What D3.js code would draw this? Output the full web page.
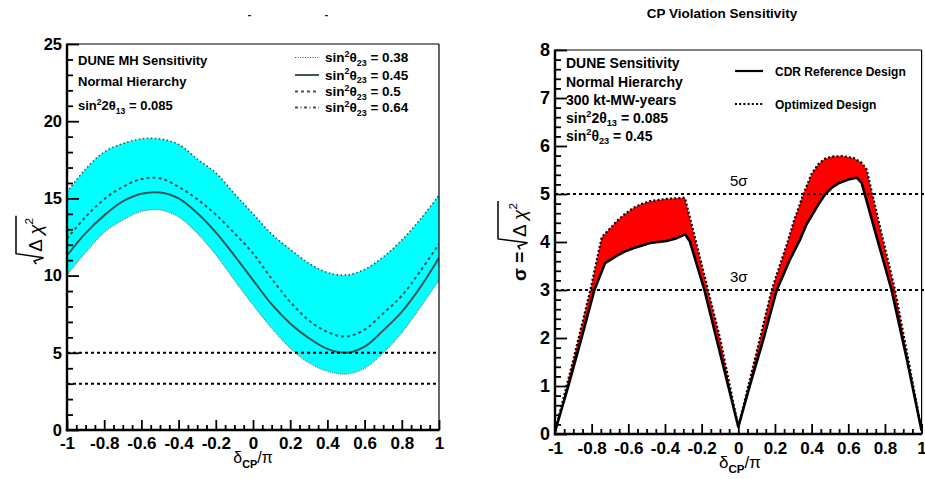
<!DOCTYPE html>
<html><head><meta charset="utf-8">
<script src="https://cdn.jsdelivr.net/npm/d3@7"></script>
<style>
body{margin:0;background:#fff}
svg{display:block}
text{font-family:"Liberation Sans",Arial,Helvetica,sans-serif;font-weight:bold;fill:#000}
</style>
</head><body>
<svg id="c" width="925" height="479"></svg>
<script>
// ---------------- data ----------------
const delta = [-1,-0.9,-0.8,-0.7,-0.6,-0.5,-0.4,-0.3,-0.2,-0.1,0,0.1,0.2,0.3,0.4,0.5,0.6,0.7,0.8,0.9,1];
const mhUpper  = [15.4,16.9,18.0,18.55,18.85,18.85,18.5,17.55,16.65,15.3,14.0,12.7,11.7,10.8,10.2,10.03,10.4,11.2,12.3,13.65,15.2];
const mhDashed = [12.4,13.8,14.95,15.75,16.25,16.3,15.75,14.95,13.95,12.75,11.44,9.8,8.3,7.1,6.35,6.05,6.5,7.55,8.7,10.3,12.05];
const mhSolid  = [11.3,12.75,13.9,14.8,15.3,15.38,15.0,14.05,12.8,11.3,9.71,8.15,6.9,5.95,5.25,5.0,5.4,6.45,7.65,9.25,11.15];
const mhLower  = [10.03,11.5,12.8,13.6,14.15,14.25,13.8,12.75,11.35,9.7,8.1,6.6,5.3,4.35,3.8,3.62,4.0,5.0,6.3,7.95,9.7];
const legendValues = ["0.38","0.45","0.5","0.64"];
const mhRefLines = [5,3];
const mhYTicks = [0,5,10,15,20,25];
const xTicks = [-1,-0.8,-0.6,-0.4,-0.2,0,0.2,0.4,0.6,0.8,1];
const xTickLabels = ["-1","-0.8","-0.6","-0.4","-0.2","0","0.2","0.4","0.6","0.8","1"];

const cdrDelta = [-1,-0.927,-0.855,-0.785,-0.727,-0.664,-0.62,-0.573,-0.52,-0.482,-0.391,-0.336,-0.29,-0.264,-0.185,-0.12,0,0.07,0.136,0.21,0.28,0.337,0.37,0.409,0.44,0.475,0.51,0.55,0.6,0.646,0.673,0.75,0.836,0.92,1.0];
const cdrSigma = [0.05,1.0,2.0,3.0,3.56,3.71,3.8,3.87,3.93,3.98,4.02,4.08,4.16,4.01,3.0,2.0,0.15,1.1,1.96,3.0,3.62,4.05,4.35,4.6,4.8,5.0,5.13,5.23,5.3,5.34,5.23,4.17,3.0,1.55,0.07];
const optDelta = [-1,-0.9,-0.807,-0.745,-0.70,-0.664,-0.62,-0.573,-0.53,-0.482,-0.391,-0.291,-0.165,-0.1,0,0.09,0.182,0.273,0.30,0.355,0.40,0.436,0.47,0.51,0.564,0.63,0.673,0.70,0.78,0.855,0.93,1.0];
const optSigma = [0.05,1.55,3.0,4.1,4.28,4.43,4.58,4.71,4.79,4.85,4.9,4.92,3.0,2.0,0.15,1.55,3.0,4.05,4.4,5.0,5.42,5.62,5.73,5.78,5.79,5.75,5.65,5.51,4.2,3.0,1.5,0.07];
const cpRefLines = [5,3];
const cpRefLabels = ["5σ","3σ"];
const sigmaTicks = [0,1,2,3,4,5,6,7,8];

// ---------------- setup ----------------
const svg = d3.select("#c");
const lineCol = "#3b5757";

const xL = d3.scaleLinear().domain([-1,1]).range([67,439]);
const yL = d3.scaleLinear().domain([0,25]).range([430,44]);
const xR = d3.scaleLinear().domain([-1,1]).range([555,921.6]);
const yR = d3.scaleLinear().domain([0,8]).range([434,50]);

function richText(g, x, y, segs, size, anchor){
  const t = g.append("text").attr("x",x).attr("y",y).attr("font-size",size);
  if(anchor) t.attr("text-anchor",anchor);
  let shift = 0;
  segs.forEach(([s,k])=>{
    const target = k==="sup" ? -size*0.38 : k==="sub" ? size*0.27 : 0;
    const ts = t.append("tspan").attr("dy", target-shift).text(s);
    if(k) ts.attr("font-size", size*0.66);
    shift = target;
  });
  return t;
}

function axes(x, y, yMajor, yMinorStep, xMinorStep, yFs, xFs, yLen, xPad){
  const [x0,x1] = x.range(); const [y0,y1] = y.range();
  const yMin = d3.range(y.domain()[0], y.domain()[1]+1e-9, yMinorStep).filter(v=>!yMajor.some(m=>Math.abs(m-v)<1e-6));
  const xMin = d3.range(-1, 1+1e-9, xMinorStep).filter(v=>!xTicks.some(m=>Math.abs(m-v)<1e-6));
  const gy = svg.append("g").attr("transform",`translate(${x0},0)`)
    .call(d3.axisLeft(y).tickValues(yMajor).tickSize(-yLen).tickPadding(5).tickFormat(d3.format("d")));
  gy.selectAll("text").attr("font-size",yFs).attr("font-family",null).style("font-weight","bold");
  const gym = svg.append("g").attr("transform",`translate(${x0},0)`)
    .call(d3.axisLeft(y).tickValues(yMin).tickSize(-yLen/2).tickFormat(""));
  const gx = svg.append("g").attr("transform",`translate(0,${y0})`)
    .call(d3.axisBottom(x).tickValues(xTicks).tickSize(-10).tickPadding(xPad).tickFormat((d,i)=>xTickLabels[i]));
  gx.selectAll("text").attr("font-size",xFs).attr("font-family",null);
  const gxm = svg.append("g").attr("transform",`translate(0,${y0})`)
    .call(d3.axisBottom(x).tickValues(xMin).tickSize(-5).tickFormat(""));
  [gy,gym,gx,gxm].forEach(g=>{
    g.select(".domain").remove();
    g.selectAll("line").attr("stroke","#000").attr("stroke-width",1.8);
  });
  svg.append("line").attr("x1",x0).attr("x2",x1).attr("y1",y1).attr("y2",y1).attr("stroke","#000").attr("stroke-width",1.2);
  svg.append("line").attr("x1",x1).attr("x2",x1).attr("y1",y1).attr("y2",y0).attr("stroke","#000").attr("stroke-width",1.2);
  svg.append("line").attr("x1",x0).attr("x2",x0).attr("y1",y1-0.6).attr("y2",y0+1.2).attr("stroke","#000").attr("stroke-width",2.4);
  svg.append("line").attr("x1",x0-1.2).attr("x2",x1+0.6).attr("y1",y0).attr("y2",y0).attr("stroke","#000").attr("stroke-width",2.4);
}

function radTitle(cx, cy, prefix, size, overY){
  const g = svg.append("g");
  let x = 0;
  if(prefix){
    const p = g.append("text").attr("x",0).attr("y",0).attr("font-size",size).text(prefix);
    x = p.node().getComputedTextLength() + size*0.12;
  }
  const hookW = size*0.55;
  const rx = x + hookW + 2;
  const rad = g.append("text").attr("x",rx).attr("y",0).attr("font-size",size).style("font-weight","normal");
  rad.append("tspan").text("Δ ");
  rad.append("tspan").style("font-style","italic").text("χ");
  rad.append("tspan").attr("dy",-size*0.45).attr("font-size",size*0.62).text("2");
  const rw = rad.node().getComputedTextLength();
  const end = rx + rw + 2;
  g.append("path")
    .attr("d",`M${x},${-size*0.3} L${x+hookW*0.3},${-size*0.42} L${x+hookW*0.62},${size*0.08} L${x+hookW},${overY} L${end},${overY}`)
    .attr("fill","none").attr("stroke","#000").attr("stroke-width",1.5).attr("stroke-linejoin","miter");
  g.attr("transform",`translate(${cx},${cy}) rotate(-90) translate(${-end/2},0)`);
}

function axisTitle(cx, y, size){
  const t = svg.append("text").attr("x",cx).attr("y",y).attr("font-size",size).attr("text-anchor","middle");
  t.append("tspan").style("font-weight","normal").text("δ");
  t.append("tspan").attr("dy",size*0.3).attr("font-size",size*0.68).text("CP");
  t.append("tspan").attr("dy",-size*0.3).style("font-weight","normal").text("/π");
}

// ---------------- left panel ----------------
const defs = svg.append("defs");
defs.append("clipPath").attr("id","clipL").append("rect").attr("x",67).attr("y",44).attr("width",372).attr("height",386);
defs.append("clipPath").attr("id","clipR").append("rect").attr("x",555).attr("y",50).attr("width",370).attr("height",384);

const pts = (arr)=>delta.map((d,i)=>[d,arr[i]]);
const curve = d3.curveCatmullRom.alpha(0.5);
const gL = svg.append("g").attr("clip-path","url(#clipL)");
gL.append("path")
  .attr("d", d3.area().curve(curve).x((d,i)=>xL(delta[i])).y0((d,i)=>yL(mhLower[i])).y1((d,i)=>yL(mhUpper[i]))(delta))
  .attr("fill","#00ffff");
const lineL = d3.line().curve(curve).x(d=>xL(d[0])).y(d=>yL(d[1]));
gL.append("path").attr("d",lineL(pts(mhUpper))).attr("fill","none").attr("stroke",lineCol).attr("stroke-width",1.6).attr("stroke-dasharray","1.5,2.5");
gL.append("path").attr("d",lineL(pts(mhLower))).attr("fill","none").attr("stroke","#6f8787").attr("stroke-width",1.2).attr("stroke-dasharray","1,1");
gL.append("path").attr("d",lineL(pts(mhDashed))).attr("fill","none").attr("stroke",lineCol).attr("stroke-width",2).attr("stroke-dasharray","3,3");
gL.append("path").attr("d",lineL(pts(mhSolid))).attr("fill","none").attr("stroke",lineCol).attr("stroke-width",2);
mhRefLines.forEach(v=>{
  gL.append("line").attr("x1",xL(-1)).attr("x2",xL(1)).attr("y1",yL(v)).attr("y2",yL(v))
    .attr("stroke","#000").attr("stroke-width",2).attr("stroke-dasharray","3,3");
});
axes(xL, yL, mhYTicks, 1, 0.05, 16.5, 17, 12, 7);

richText(svg, 78, 65, [["DUNE MH Sensitivity",""]], 13);
richText(svg, 78, 86, [["Normal Hierarchy",""]], 13);
richText(svg, 78, 110, [["sin",""],["2","sup"],["2θ",""],["13","sub"],[" = 0.085",""]], 13);
const legDash = ["1,1.5","", "3,3", "3,2.5,1,2.5"];
const legY = [57.5, 75, 91.5, 107.5];
legendValues.forEach((v,i)=>{
  const l = svg.append("line").attr("x1",295).attr("x2",319).attr("y1",legY[i]).attr("y2",legY[i])
    .attr("stroke",lineCol).attr("stroke-width", i===0?1.2:2);
  if(legDash[i]) l.attr("stroke-dasharray",legDash[i]);
  richText(svg, 325, legY[i]+4.5, [["sin",""],["2","sup"],["θ",""],["23","sub"],[" = "+v,""]], 13.5);
});
svg.append("text").attr("x",249.5).attr("y",18).attr("font-size",10).attr("text-anchor","middle").text("-");
svg.append("text").attr("x",326.5).attr("y",18).attr("font-size",10).attr("text-anchor","middle").text("-");

radTitle(42, 240, null, 19, -26);
axisTitle(253, 463, 16);

// ---------------- right panel ----------------
const gR = svg.append("g").attr("clip-path","url(#clipR)");
const optPts = optDelta.map((d,i)=>[d,optSigma[i]]);
const cdrPts = cdrDelta.map((d,i)=>[d,cdrSigma[i]]);
const lineR = d3.line().x(d=>xR(d[0])).y(d=>yR(d[1]));
gR.append("path").attr("d", lineR(optPts.concat(cdrPts.slice().reverse()))+"Z").attr("fill","#ff0000");
gR.append("path").attr("d", lineR(cdrPts)).attr("fill","none").attr("stroke","#000").attr("stroke-width",2.6).attr("stroke-linejoin","round");
gR.append("path").attr("d", lineR(optPts)).attr("fill","none").attr("stroke","#000").attr("stroke-width",2.2).attr("stroke-dasharray","2,2.2");
cpRefLines.forEach((v,i)=>{
  gR.append("line").attr("x1",xR(-1)).attr("x2",925).attr("y1",yR(v)).attr("y2",yR(v))
    .attr("stroke","#000").attr("stroke-width",2).attr("stroke-dasharray","3,3");
  svg.append("text").attr("x",730).attr("y",yR(v)-8).attr("font-size",15)
    .style("font-weight","normal").text(cpRefLabels[i]);
});
axes(xR, yR, sigmaTicks, 0.2, 0.05, 18, 17, 12, 8);

svg.append("text").attr("x",722).attr("y",18).attr("font-size",13.5).attr("text-anchor","middle").text("CP Violation Sensitivity");
richText(svg, 566, 68, [["DUNE Sensitivity",""]], 14);
richText(svg, 566, 87, [["Normal Hierarchy",""]], 14);
richText(svg, 566, 105, [["300 kt-MW-years",""]], 14);
richText(svg, 566, 122.5, [["sin",""],["2","sup"],["2θ",""],["13","sub"],[" = 0.085",""]], 14);
richText(svg, 566, 140.5, [["sin",""],["2","sup"],["θ",""],["23","sub"],[" = 0.45",""]], 14);
svg.append("line").attr("x1",735).attr("x2",763).attr("y1",71).attr("y2",71).attr("stroke","#000").attr("stroke-width",2.2);
svg.append("text").attr("x",775).attr("y",75.5).attr("font-size",12).text("CDR Reference Design");
svg.append("line").attr("x1",735).attr("x2",763).attr("y1",104).attr("y2",104).attr("stroke","#000").attr("stroke-width",2).attr("stroke-dasharray","2,2.2");
svg.append("text").attr("x",775).attr("y",108.5).attr("font-size",12).text("Optimized Design");

radTitle(526, 241, "σ =", 19, -28);
axisTitle(740, 468, 17);
</script>
</body></html>
